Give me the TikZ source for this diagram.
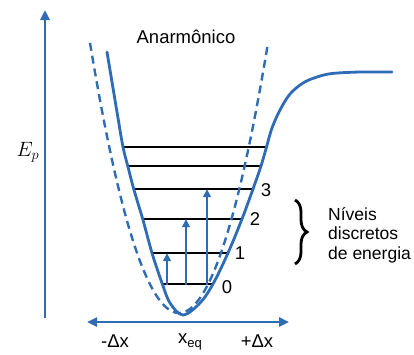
\documentclass[tikz,border=0pt]{standalone}
\usepackage{fontspec}
\setmainfont{Liberation Sans}
\usetikzlibrary{arrows.meta,decorations.pathreplacing}
\definecolor{curveblue}{RGB}{46,108,182}
\begin{document}
\begin{tikzpicture}[x=1pt,y=-1pt,
  blueline/.style={draw=curveblue, line width=2.8pt, line cap=round, line join=round},
  dashline/.style={draw=curveblue, line width=2.4pt, dash pattern=on 8pt off 5pt},
  levelline/.style={draw=black, line width=1.8pt},
  excite/.style={draw=curveblue, line width=2.2pt, -{Triangle[length=8pt,width=7.5pt]}},
  axistip/.style={-{Triangle[length=10pt,width=9pt]}},
  lbl/.style={font=\fontsize{18.5}{20}\selectfont, inner sep=0pt},
  sidetext/.style={font=\fontsize{17.5}{19.5}\selectfont, inner sep=0pt}]
\useasboundingbox (0,0) rectangle (414,354);

% energy levels
\coordinate (l0) at (162,284); \coordinate (r0) at (214,284);
\coordinate (l1) at (152,253); \coordinate (r1) at (229,253);
\coordinate (l2) at (143,219); \coordinate (r2) at (242,219);
\coordinate (l3) at (133,189); \coordinate (r3) at (254,189);
\coordinate (l4) at (129,166); \coordinate (r4) at (262,166);
\coordinate (l5) at (124,147); \coordinate (r5) at (267,147);
\foreach \i in {0,...,5}{\draw[levelline] (l\i) -- (r\i);}

% excitation arrows
\coordinate (a1s) at (167,285); \coordinate (a1e) at (167,253);
\coordinate (a2s) at (186,285); \coordinate (a2e) at (186,219);
\coordinate (a3s) at (207,285); \coordinate (a3e) at (207,189);
\draw[excite] (a1s) -- (a1e);
\draw[excite] (a2s) -- (a2e);
\draw[excite] (a3s) -- (a3e);

% harmonic (dashed)
\draw[dashline, domain=90:268, samples=80] plot (\x, {313-0.0341*(\x-179)^2});

% anharmonic (solid)
\draw[blueline] plot[smooth, tension=0.55] coordinates {
 (107,52) (113,88) (118,118) (123,147) (128,167) (134,190) (143,220)
 (152,253) (162,283) (170,303) (183,315) (200,303) (213,284) (228,253)
 (242,219) (253,189) (261,166) (266.5,147) (272,128) (280,110) (290,94)
 (303,83) (317,77) (332,73.5) (360,72) (392,72)};

% axes
\coordinate (ybot) at (45,318);
\coordinate (ytop) at (45,10);
\draw[blueline, line cap=butt, axistip] (ybot) -- (ytop);
\coordinate (xl) at (87,322);
\coordinate (xr) at (289,322);
\draw[draw=curveblue, line width=2.4pt, {Triangle[length=10pt,width=9pt]}-{Triangle[length=10pt,width=9pt]}] (xl) -- (xr);

% labels
\node[lbl] (title) at (186,37) {Anarmônico};
\node[lbl] (n0) at (227,287) {0};
\node[lbl] (n1) at (240,253) {1};
\node[lbl] (n2) at (255,219) {2};
\node[lbl] (n3) at (266,190) {3};
\node[inner sep=0pt, font=\fontsize{21}{22}\selectfont] (ep) at (28,152) {$E_p$};
\node[lbl] (mdx) at (115,341) {-Δx};
\node[lbl] (xeq) at (190,342) {x\raisebox{-0.45ex}{\fontsize{13}{13}\selectfont eq}};
\node[lbl] (pdx) at (257,341) {+Δx};

% brace and text
\coordinate (btop) at (295,200);
\coordinate (bbot) at (295,264);
\draw[line width=2.8pt, decorate, decoration={brace, amplitude=12pt}] (btop) -- (bbot);
\node[sidetext, anchor=west, align=left] (txt) at (328,235) {Níveis\\discretos\\de energia};
\end{tikzpicture}
\end{document}
